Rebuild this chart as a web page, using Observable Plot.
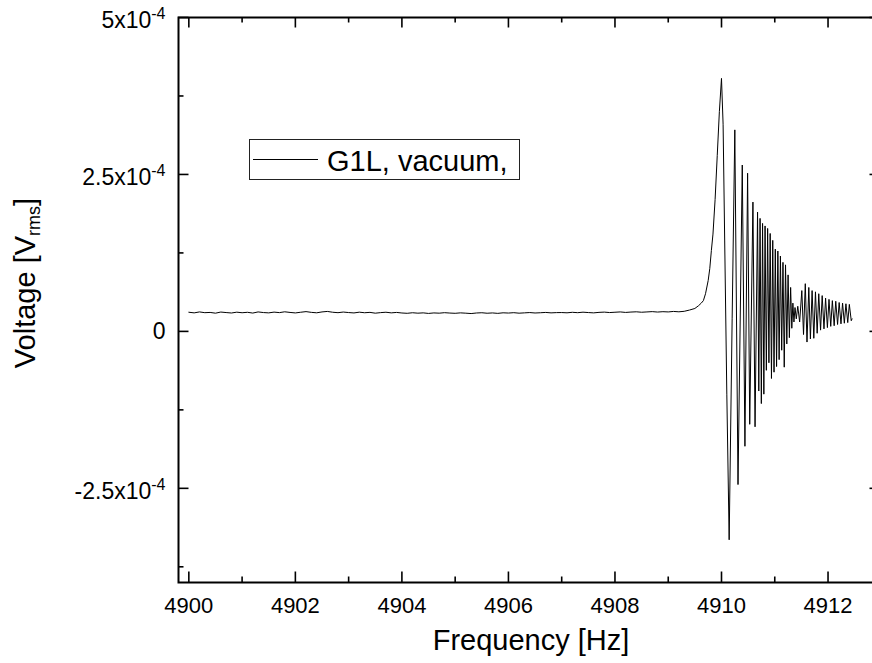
<!DOCTYPE html>
<html><head><meta charset="utf-8">
<script src="https://cdn.jsdelivr.net/npm/d3@7"></script>
<script src="https://cdn.jsdelivr.net/npm/@observablehq/plot@0.6"></script>
<style>
body{margin:0;background:#fff}
#chart{position:relative;width:872px;height:663px;overflow:hidden}
#chart svg{max-width:none !important}
</style>
</head><body><div id="chart"></div>
<script>
// Frequency [Hz]
const freqHz = [
4900.0,4900.1,4900.2,4900.3,4900.4,4900.5,4900.6,4900.7,4900.8,4900.9,
4901.0,4901.1,4901.2,4901.3,4901.4,4901.5,4901.6,4901.7,4901.8,4901.9,
4902.0,4902.1,4902.2,4902.3,4902.4,4902.5,4902.6,4902.7,4902.8,4902.9,
4903.0,4903.1,4903.2,4903.3,4903.4,4903.5,4903.6,4903.7,4903.8,4903.9,
4904.0,4904.1,4904.2,4904.3,4904.4,4904.5,4904.6,4904.7,4904.8,4904.9,
4905.0,4905.1,4905.2,4905.3,4905.4,4905.5,4905.6,4905.7,4905.8,4905.9,
4906.0,4906.1,4906.2,4906.3,4906.4,4906.5,4906.6,4906.7,4906.8,4906.9,
4907.0,4907.1,4907.2,4907.3,4907.4,4907.5,4907.6,4907.7,4907.8,4907.9,
4908.0,4908.1,4908.2,4908.3,4908.4,4908.5,4908.6,4908.7,4908.8,4908.9,
4909.0,4909.1,4909.2,
4909.30,4909.40,4909.50,4909.57,4909.62,4909.66,4909.70,4909.75,4909.78,4909.81,
4909.84,4909.88,4909.92,4909.96,4910.00,4910.03,4910.06,4910.10,4910.144,4910.20,
4910.25,4910.31,4910.39,4910.44,4910.49,4910.53,4910.59,4910.63,
4910.677,4910.700,4910.724,4910.748,4910.771,4910.795,4910.818,4910.842,4910.866,4910.890,
4910.914,4910.938,4910.962,4910.986,4911.010,4911.034,4911.058,4911.082,4911.106,4911.130,
4911.154,4911.178,4911.202,4911.226,4911.250,4911.274,4911.298,4911.320,4911.340,4911.360,
4911.380,4911.404,4911.432,4911.467,4911.508,
4911.540,4911.573,4911.605,4911.639,4911.669,
4911.701,4911.733,4911.764,4911.796,4911.826,4911.860,4911.890,4911.924,4911.954,4911.988,
4912.018,4912.051,4912.081,4912.115,4912.145,4912.179,4912.209,4912.243,4912.273,4912.306,
4912.336,4912.370,4912.400,4912.436,4912.451
];
// Voltage in units of 1e-5 V_rms
const voltE5 = [
3.05,2.95,3.10,2.98,3.02,2.90,3.08,3.00,2.93,3.06,
2.97,3.04,2.92,3.10,3.00,2.95,3.07,2.99,3.12,3.02,
2.94,3.05,3.15,3.03,2.96,3.10,3.18,3.05,2.98,3.08,
3.00,2.94,3.06,2.97,3.03,2.90,2.99,3.05,2.95,3.02,
2.93,2.88,2.97,2.90,2.95,2.86,2.94,2.90,2.98,2.92,
2.88,2.95,2.90,2.84,2.93,2.97,2.89,2.94,2.87,2.96,
2.92,2.98,2.90,2.95,3.00,2.93,2.97,3.02,2.95,2.99,
3.00,2.96,3.04,2.98,3.06,3.00,2.95,3.03,3.07,3.00,
3.05,3.10,3.02,3.08,3.12,3.05,3.10,3.15,3.08,3.14,
3.10,3.18,3.12,
3.20,3.40,3.65,4.10,4.50,4.90,6.00,8.10,10.0,12.9,
15.5,21.0,28.0,35.0,40.3,33.0,14.4,-10.0,-33.2,2.0,
32.1,-24.4,26.5,-18.3,25.2,-14.8,20.6,-15.2,
19.0,-9.5,18.0,-11.5,17.2,-10.0,16.8,-6.2,16.4,-5.0,
15.6,-7.5,14.5,-6.5,13.1,-5.6,12.8,-4.5,12.0,-3.0,
11.0,-5.7,10.6,-2.0,9.0,-1.0,7.0,0.5,4.5,1.5,
3.8,2.0,4.0,1.5,6.5,
-0.5,7.6,-1.7,7.0,-1.2,
6.5,-1.1,6.3,-0.3,6.0,0.2,5.7,0.4,5.3,0.6,
5.1,0.8,4.9,0.9,4.8,1.1,4.6,1.2,4.5,1.3,
4.4,1.4,4.3,1.7,2.0
];
const xMajor = [4900,4902,4904,4906,4908,4910,4912];
const xMinor = [4901,4903,4905,4907,4909,4911];
const yMajor = [-2.5e-4, 0, 2.5e-4, 5e-4];
const yMinor = [-3.75e-4, -1.25e-4, 1.25e-4, 3.75e-4];
const yLabels = ["-2.5x10^-4", "0", "2.5x10^-4", "5x10^-4"];
const seriesName = "G1L, vacuum,";

const data = freqHz.map((f, i) => ({f, v: voltE5[i] * 1e-5}));

const W = 880, H = 663, mL = 178, mT = 17, mR = 0, mB = 81;
const pW = W - mL - mR, pH = H - mT - mB;
const font = "'Liberation Sans', Arial, sans-serif";

const plot = Plot.plot({
  width: W, height: H,
  marginLeft: mL, marginTop: mT, marginRight: mR, marginBottom: mB,
  style: {fontFamily: font, fontSize: "22px", color: "#000", background: "#fff", maxWidth: "none"},
  x: {domain: [4899.806, 4912.985]},
  y: {domain: [-4e-4, 5e-4]},
  marks: [
    Plot.line(data, {x: "f", y: "v", stroke: "#000", strokeWidth: 1}),
    Plot.frame({stroke: "#000", strokeWidth: 2}),
    Plot.tickX(xMajor, {x: d => d, insetTop: pH - 10.5, stroke: "#000", strokeWidth: 1.6}),
    Plot.tickX(xMinor, {x: d => d, insetTop: pH - 5.5, stroke: "#000", strokeWidth: 1.6}),
    Plot.tickX(xMajor, {x: d => d, insetBottom: pH - 10.5, stroke: "#000", strokeWidth: 1.6}),
    Plot.tickX(xMinor, {x: d => d, insetBottom: pH - 5.5, stroke: "#000", strokeWidth: 1.6}),
    Plot.tickY(yMajor, {y: d => d, insetRight: pW - 10.5, stroke: "#000", strokeWidth: 1.6}),
    Plot.tickY(yMinor, {y: d => d, insetRight: pW - 5.5, stroke: "#000", strokeWidth: 1.6}),
    Plot.tickY(yMajor, {y: d => d, insetLeft: pW - 10.5, stroke: "#000", strokeWidth: 1.6}),
    Plot.tickY(yMinor, {y: d => d, insetLeft: pW - 5.5, stroke: "#000", strokeWidth: 1.6}),
    Plot.axisX(xMajor, {tickSize: 0, tickPadding: 15, tickFormat: d => String(d), fontSize: 22, label: null}),
    Plot.axisY(yMajor, {tickSize: 0, tickPadding: 13, tickFormat: d => yLabels[yMajor.indexOf(d)], fontSize: 23, label: null})
  ]
});

document.getElementById("chart").appendChild(plot);
plot.setAttribute("width", W);
plot.style.maxWidth = "none";
const svg = d3.select(plot);

// superscript exponents on y tick labels
svg.selectAll('g[aria-label="y-axis tick label"] text').each(function () {
  const t = d3.select(this);
  const s = t.text();
  if (s.includes("^")) {
    const [m, e] = s.split("^");
    t.text(null);
    t.append("tspan").text(m);
    t.append("tspan").attr("font-size", "16px").attr("dy", "-9").text(e);
    t.attr("transform", (t.attr("transform") || "") + " translate(0,3)");
  }
});

// axis titles
svg.append("text")
  .attr("x", 531).attr("y", 650)
  .attr("text-anchor", "middle")
  .attr("font-family", font).attr("font-size", "29px").attr("fill", "#000")
  .text("Frequency [Hz]");

const yl = svg.append("text")
  .attr("transform", "translate(35,283) rotate(-90)")
  .attr("text-anchor", "middle")
  .attr("font-family", font).attr("font-size", "29px").attr("fill", "#000");
yl.append("tspan").text("Voltage [V");
yl.append("tspan").attr("font-size", "18px").attr("dy", "5").text("rms");
yl.append("tspan").attr("dy", "-5").text("]");

// legend
const lg = svg.append("g");
lg.append("rect").attr("x", 249.5).attr("y", 139.5).attr("width", 270).attr("height", 40)
  .attr("fill", "#fff").attr("stroke", "#222").attr("stroke-width", 1);
lg.append("line").attr("x1", 253).attr("x2", 318).attr("y1", 159.5).attr("y2", 159.5)
  .attr("stroke", "#000").attr("stroke-width", 1);
lg.append("text").attr("x", 327).attr("y", 171)
  .attr("text-anchor", "start")
  .attr("font-family", font).attr("font-size", "29px").attr("fill", "#000")
  .text(seriesName);
</script>
</body></html>
